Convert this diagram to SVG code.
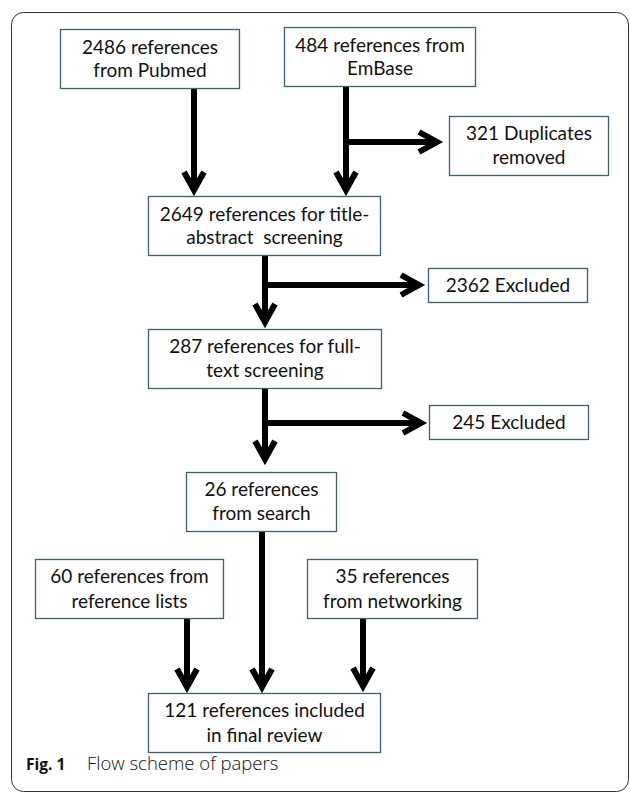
<svg xmlns="http://www.w3.org/2000/svg" width="630" height="793" viewBox="0 0 630 793">
<defs>
<style>
.box{fill:#fff;stroke:#3f5f6d;stroke-width:1.3}
.t{font-family:Lato,"Open Sans","Liberation Sans",sans-serif;font-size:19px;fill:#111;text-anchor:middle}
.c{fill:none;stroke:#000;stroke-width:6;marker-end:url(#chev)}
.cap{font-family:"Open Sans","Liberation Sans",sans-serif;fill:#111}
</style>
<marker id="chev" markerUnits="userSpaceOnUse" markerWidth="40" markerHeight="40" viewBox="-30 -20 40 40" refX="0" refY="0" orient="auto" overflow="visible">
<path d="M-18,-10 L0,0 L-18,10" fill="none" stroke="#000" stroke-width="6" stroke-linejoin="miter" stroke-miterlimit="10"/>
</marker>
</defs>
<rect x="11.5" y="12.5" width="617" height="779" rx="12" ry="12" fill="none" stroke="#333" stroke-width="1"/>
<g id="connectors">
<path class="c" d="M194,88 V190"/>
<path class="c" d="M346,87 V190"/>
<path class="c" d="M346,142 H437"/>
<path class="c" d="M265,255 V322"/>
<path class="c" d="M265,285 H419"/>
<path class="c" d="M265,389 V459"/>
<path class="c" d="M265,423 H421"/>
<path class="c" d="M262,531 V687"/>
<path class="c" d="M187,619 V687"/>
<path class="c" d="M363,619 V686"/>
</g>
<g id="pubmed"><rect class="box" x="60.5" y="29.5" width="179" height="59"/><text class="t" x="150" y="54">2486 references</text><text class="t" x="150" y="77">from Pubmed</text></g>
<g id="embase"><rect class="box" x="284.5" y="27.5" width="191" height="59"/><text class="t" x="380" y="52">484 references from</text><text class="t" x="380" y="75">EmBase</text></g>
<g id="duplicates"><rect class="box" x="449.5" y="116.5" width="159" height="59"/><text class="t" x="529" y="140">321 Duplicates</text><text class="t" x="529" y="164">removed</text></g>
<g id="title"><rect class="box" x="148.5" y="196.5" width="232" height="59"/><text class="t" x="264.5" y="221">2649 references for title-</text><text class="t" x="264.5" y="244" style="white-space:pre">abstract  screening</text></g>
<g id="excluded1"><rect class="box" x="428.5" y="268.5" width="159" height="34"/><text class="t" x="508" y="292">2362 Excluded</text></g>
<g id="fulltext"><rect class="box" x="148.5" y="329.5" width="233" height="59"/><text class="t" x="265" y="353">287 references for full-</text><text class="t" x="265" y="377">text screening</text></g>
<g id="excluded2"><rect class="box" x="429.5" y="405.5" width="159" height="34"/><text class="t" x="509" y="429">245 Excluded</text></g>
<g id="search"><rect class="box" x="186.5" y="472.5" width="150" height="59"/><text class="t" x="261.5" y="496">26 references</text><text class="t" x="261.5" y="520">from search</text></g>
<g id="reflists"><rect class="box" x="35.5" y="559.5" width="188" height="59"/><text class="t" x="129.5" y="583">60 references from</text><text class="t" x="129.5" y="608">reference lists</text></g>
<g id="networking"><rect class="box" x="307.5" y="559.5" width="170" height="59"/><text class="t" x="392.5" y="583">35 references</text><text class="t" x="392.5" y="608">from networking</text></g>
<g id="final"><rect class="box" x="148.5" y="693.5" width="232" height="59"/><text class="t" x="264.5" y="717">121 references included</text><text class="t" x="264.5" y="742">in final review</text></g>
<g id="caption"><text class="cap" x="26" y="770" font-size="15.5" font-weight="bold">Fig. 1</text><text class="cap" x="87" y="770" font-size="18.5" font-weight="300">Flow scheme of papers</text></g>
</svg>
